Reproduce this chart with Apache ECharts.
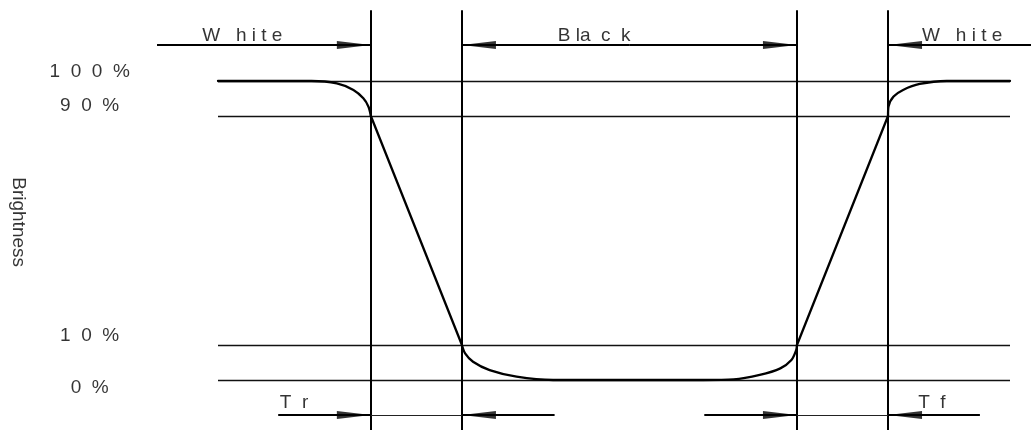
<!DOCTYPE html>
<html>
<head>
<meta charset="utf-8">
<script src="https://cdn.jsdelivr.net/npm/echarts@6/dist/echarts.min.js"></script>
<style>
  html, body { margin: 0; padding: 0; background: #fff; }
  #chart { width: 1031px; height: 430px; }
</style>
</head>
<body>
<div id="chart"></div>
<script>
// schematic units: time 0..100 across the level lines, brightness in %
var levelValues = [0, 11.7, 88.3, 100];
var levelLabels = ['0  %', '1  0  %', '9  0  %', '1  0  0  %'];
var levelLabelY = [-2.7, 14.7, 91.6, 103.2];
var levelLabelX = -16.2;

// vertical guide lines (start/end of Tr and Tf)
var edgeTimes = [19.3, 30.8, 73.1, 84.6];
var edgeSpan = [-20, 123.7];

// the brightness response curve
var waveTime = [0, 11.8, 15.0, 17.1, 18.35, 19.0, 19.3, 30.8, 31.2, 32.2, 34.3, 37.7, 42.3,
  61.3, 65.1, 68.4, 71.0, 72.4, 73.0, 73.1, 84.6, 84.65, 85.3, 86.5, 88.6, 92.0, 100];
var waveBrightness = [100, 100, 99.2, 97.0, 94.2, 91.4, 88.3, 11.7, 8.9, 6.1, 3.3, 1.1, 0,
  0, 0.2, 1.7, 3.9, 6.7, 10.0, 11.7, 88.3, 91.4, 94.8, 97.0, 99.0, 100, 100];
// indexes where the curve is a straight ramp (Tr and Tf)
var rampStarts = [6, 19];

// arrows as [tail, tip] in time units
var topArrowY = 112.0;
var topArrows = [[-7.7, 19.3], [52, 30.8], [52, 73.1], [102.7, 84.6]];
var bottomArrowY = -11.7;
var bottomArrows = [[7.6, 19.3], [42.5, 30.8], [61.4, 73.1], [96.2, 84.6]];
var bottomSpans = [[19.3, 30.8], [73.1, 84.6]];

// annotation texts
var topTexts = ['W   h i t e', 'B la  c  k', 'W   h i t e'];
var topTextX = [-2.0, 42.9, 88.9];
var topTextY = 115.0;
var bottomTexts = ['T  r', 'T  f'];
var bottomTextX = [7.8, 88.4];
var bottomTextY = -7.7;
var axisTitle = 'Brightness';
var axisTitlePos = [-25.2, 52.8];

var chartDom = document.getElementById('chart');
var myChart = echarts.init(chartDom);

var font = 'Liberation Sans, Arial, sans-serif';
var headRight = 'path://M0,0 L34,4 L0,8 Z M68,3.9 L68,4.1 Z';
var headLeft = 'path://M68,0 L34,4 L68,8 Z M0,3.9 L0,4.1 Z';

function hLines(pairs, y) {
  return pairs.map(function (p) {
    return { coords: [[p[0], y], [p[1], y]] };
  });
}

var wavePoints = waveTime.map(function (t, i) { return [t, waveBrightness[i]]; });

// curved pieces are smoothed, ramps stay straight
var cuts = [0];
rampStarts.forEach(function (i) { cuts.push(i, i + 1); });
cuts.push(wavePoints.length - 1);
var waveSeries = [];
for (var k = 0; k < cuts.length - 1; k++) {
  var isRamp = k % 2 === 1;
  waveSeries.push({
    type: 'line',
    clip: false,
    silent: true,
    showSymbol: false,
    smooth: isRamp ? false : 0.3,
    data: wavePoints.slice(cuts[k], cuts[k + 1] + 1),
    lineStyle: { color: '#000', width: 2.3, cap: 'round' }
  });
}

var shafts = hLines(topArrows, topArrowY).concat(hLines(bottomArrows, bottomArrowY));
var heads = [];
topArrows.forEach(function (a) { heads.push([a[1], topArrowY, a[1] > a[0] ? 1 : -1]); });
bottomArrows.forEach(function (a) { heads.push([a[1], bottomArrowY, a[1] > a[0] ? 1 : -1]); });

var texts = [];
topTexts.forEach(function (t, i) { texts.push({ value: [topTextX[i], topTextY], name: t }); });
bottomTexts.forEach(function (t, i) { texts.push({ value: [bottomTextX[i], bottomTextY], name: t }); });

var option = {
  animation: false,
  grid: { left: 218, right: 21, top: 81, bottom: 50 },
  xAxis: { type: 'value', min: 0, max: 100, show: false },
  yAxis: { type: 'value', min: 0, max: 100, show: false },
  series: [
    {
      // level guide lines
      type: 'lines',
      coordinateSystem: 'cartesian2d',
      silent: true,
      clip: false,
      data: levelValues.map(function (v) { return { coords: [[0, v], [100, v]] }; }),
      lineStyle: { color: '#111', width: 1.3, opacity: 1 }
    },
    {
      type: 'lines',
      coordinateSystem: 'cartesian2d',
      silent: true,
      clip: false,
      data: edgeTimes.map(function (t) { return { coords: [[t, edgeSpan[0]], [t, edgeSpan[1]]] }; }),
      lineStyle: { color: '#000', width: 2, opacity: 1 }
    },
    {
      type: 'lines',
      coordinateSystem: 'cartesian2d',
      silent: true,
      clip: false,
      data: shafts,
      lineStyle: { color: '#000', width: 2.2, opacity: 1 }
    },
    {
      type: 'lines',
      coordinateSystem: 'cartesian2d',
      silent: true,
      clip: false,
      data: hLines(bottomSpans, bottomArrowY),
      lineStyle: { color: '#222', width: 1, opacity: 1 }
    },
    {
      type: 'scatter',
      clip: false,
      silent: true,
      data: heads,
      symbol: function (val) { return val[2] > 0 ? headRight : headLeft; },
      symbolSize: [68, 8],
      itemStyle: { color: '#000' }
    },
    {
      type: 'scatter',
      clip: false,
      silent: true,
      symbolSize: 0,
      data: texts,
      label: {
        show: true,
        position: 'right',
        distance: 0,
        formatter: '{b}',
        color: '#000',
        fontFamily: font,
        fontSize: 19
      }
    },
    {
      type: 'scatter',
      clip: false,
      silent: true,
      symbolSize: 0,
      data: levelLabels.map(function (t, i) { return { value: [levelLabelX, levelLabelY[i]], name: t }; }),
      label: {
        show: true,
        position: 'inside',
        formatter: '{b}',
        color: '#000',
        fontFamily: font,
        fontSize: 19
      }
    },
    {
      type: 'scatter',
      clip: false,
      silent: true,
      symbolSize: 0,
      data: [{ value: axisTitlePos, name: axisTitle }],
      label: {
        show: true,
        position: 'inside',
        rotate: -90,
        formatter: '{b}',
        color: '#000',
        fontFamily: font,
        fontSize: 19
      }
    }
  ].concat(waveSeries)
};
option && myChart.setOption(option);
</script>
</body>
</html>
